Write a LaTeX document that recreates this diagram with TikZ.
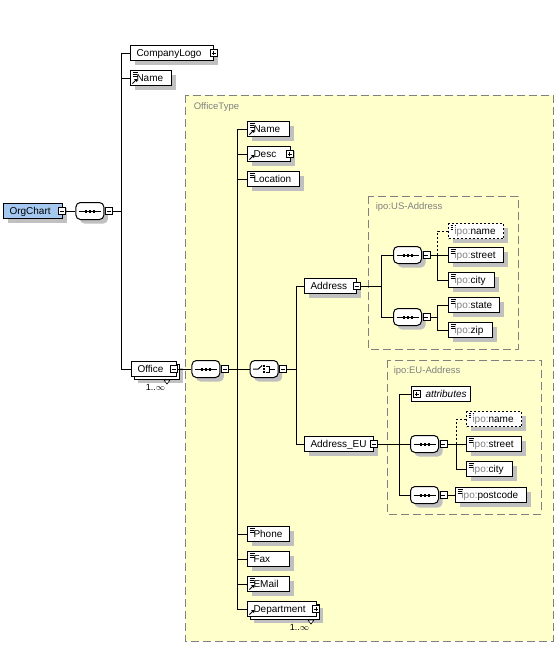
\documentclass[tikz,border=0pt]{standalone}
\usepackage{fontspec}
\setmainfont{Liberation Sans}
\usetikzlibrary{calc,positioning,shadows}

\definecolor{typeFill}{RGB}{255,255,204}
\definecolor{rootFill}{RGB}{164,200,240}
\definecolor{shadeGray}{RGB}{192,192,192}
\definecolor{frameGray}{RGB}{128,128,128}

\newcommand{\ipo}{\textcolor{frameGray}{ipo:}}
% small marks drawn inside the boxes
\newcommand{\docmark}{%
  \draw[black, line width=1pt] ([shift={(2pt,-2pt)}]path picture bounding box.north west) -- ++(5,0);
  \draw[black, line width=1pt] ([shift={(2pt,-4pt)}]path picture bounding box.north west) -- ++(4,0);
  \draw[black, line width=1pt] ([shift={(2pt,-6pt)}]path picture bounding box.north west) -- ++(5,0);}
\newcommand{\refmark}{%
  \draw[black, line width=0.8pt] ([shift={(2pt,2pt)}]path picture bounding box.south west) -- ([shift={(5.5pt,5.5pt)}]path picture bounding box.south west);
  \fill[black] ([shift={(3.5pt,6.5pt)}]path picture bounding box.south west) -- ([shift={(6.5pt,6.5pt)}]path picture bounding box.south west) -- ([shift={(6.5pt,3.5pt)}]path picture bounding box.south west) -- cycle;}
\newcommand{\seqmark}{%
  \draw[black, sharp corners, line width=1pt] ([xshift=3pt]path picture bounding box.west) -- ([xshift=-3pt]path picture bounding box.east);
  \foreach \dd in {-4,0,4}
    \fill[black, sharp corners] ([shift={(\dd pt-1pt,-1.5pt)}]path picture bounding box.center) rectangle ++(2pt,3pt);}
\newcommand{\choicemark}{%
  \draw[black, sharp corners, line width=1pt] ([xshift=3pt]path picture bounding box.west) -- ([xshift=-6pt]path picture bounding box.center) -- ([shift={(-2pt,3.5pt)}]path picture bounding box.center);
  \foreach \dd in {-3,0,3}
    \fill[black, sharp corners] ([shift={(-0.75pt,\dd pt-0.75pt)}]path picture bounding box.center) rectangle ++(1.5pt,1.5pt);
  \draw[black, sharp corners, line width=1pt] ([shift={(2pt,3pt)}]path picture bounding box.center) -| ([shift={(5pt,-3pt)}]path picture bounding box.center) -- ([shift={(2pt,-3pt)}]path picture bounding box.center);
  \draw[black, sharp corners, line width=1pt] ([xshift=5pt]path picture bounding box.center) -- ([xshift=-3pt]path picture bounding box.east);}

\begin{document}
\begin{tikzpicture}[x=1pt, y=-1pt, line width=1pt,
  every node/.style={font=\fontsize{10}{12}\selectfont},
  elem/.style={draw, fill=white, anchor=north west, inner xsep=6pt, inner ysep=0pt,
    minimum height=15pt, text height=8.5pt, text depth=2.5pt, align=left},
  shad/.style={drop shadow={shadow xshift=4pt, shadow yshift=-4pt, fill=shadeGray, draw=none, opacity=1}},
  el/.style={elem, shad},
  opt/.style={el, dash pattern=on 2pt off 2pt},
  multi/.style={elem, drop shadow={shadow xshift=6pt, shadow yshift=-6pt, fill=shadeGray, draw=none, opacity=1},
    copy shadow={shadow xshift=3pt, shadow yshift=-3pt}},
  bw/.code={\pgfmathsetlengthmacro\boxtw{#1-12}\edef\tmpset{\noexpand\tikzset{text width=\boxtw}}\tmpset},
  doc/.style={path picture={\docmark}},
  ref/.style={path picture={\refmark}},
  docref/.style={path picture={\docmark\refmark}},
  tog/.style={draw, fill=white, minimum size=7pt, inner sep=0pt, line width=0.8pt},
  minus/.style={tog, path picture={\draw[black, line width=0.8pt] ([xshift=1.5pt]path picture bounding box.west) -- ([xshift=-1.5pt]path picture bounding box.east);}},
  plus/.style={tog, path picture={\draw[black, line width=0.8pt] ([xshift=1.5pt]path picture bounding box.west) -- ([xshift=-1.5pt]path picture bounding box.east) ([yshift=-1.5pt]path picture bounding box.north) -- ([yshift=1.5pt]path picture bounding box.south);}},
  comp/.style={rectangle, rounded corners=4.5pt, draw, fill=white,
    minimum width=28pt, minimum height=17pt, inner sep=0pt, anchor=north west, shad},
  seq/.style={comp, path picture={\seqmark}},
  choice/.style={comp, path picture={\choicemark}},
  typebox/.style={draw=frameGray, fill=typeFill, dash pattern=on 8pt off 4pt},
  typelabel/.style={anchor=base west, text=frameGray, font=\fontsize{9.5}{11}\selectfont},
  occ/.style={anchor=base east, font=\fontsize{9}{11}\selectfont},
  opt link/.style={dash pattern=on 2pt off 2pt}]
\useasboundingbox (0,0) rectangle (560,654);
\fill[white] (0,0) rectangle (560,654);

% --- Type boxes (background) ---
\draw[typebox] (185,95) rectangle (553,641);
\node[typelabel] (otLabel) at (190,109) {OfficeType};
\draw[typebox] (368,196) rectangle (518,349);
\node[typelabel] (usLabel) at (372,209) {ipo:US-Address};
\draw[typebox] (387,360) rectangle (541,514);
\node[typelabel] (euLabel) at (390,373) {ipo:EU-Address};

% --- OrgChart ---
\node[el, fill=rootFill, bw=59] (org) at (3,203) {OrgChart};
\node[minus] (orgT) at ([xshift=-1.5pt]org.east) {};
\node[seq, right=10pt of orgT] (seqR) {};
\node[minus, right=0.5pt of seqR] (seqRT) {};
\coordinate[right=9pt of seqRT] (jR);
\node[el, bw=83] (logo) at (130,45) {CompanyLogo};
\node[plus] (logoT) at ([xshift=-0.5pt]logo.east) {};
\node[el, docref, bw=41] (name) at (130,70) {Name};
\node[multi, bw=45] (office) at (131,361) {Office};
\node[minus] (officeT) at ([xshift=-3.5pt]office.east) {};
\draw[line width=0.6pt, fill=white] ([shift={(-13pt,-3pt)}]office.south east) -- ++(6,0) -- ++(-3,4) -- cycle;
\node[occ] (officeOcc) at ([shift={(-8pt,-13.5pt)}]office.south east) {1..$\infty$};

% --- OfficeType content ---
\node[seq, right=14pt of officeT] (seqO) {};
\node[minus, right=0.5pt of seqO] (seqOT) {};
\coordinate[right=9pt of seqOT] (jO);
\node[el, docref, bw=42] (otName) at (247,121) {Name};
\node[el, ref, bw=43] (desc) at (247,146) {Desc};
\node[plus] (descT) at ([xshift=-1.5pt]desc.east) {};
\node[el, doc, bw=52] (loc) at (247,171) {Location};
\node[choice, right=12pt of jO] (choice) {};
\node[minus, right=0.5pt of choice] (choiceT) {};
\coordinate[right=9.5pt of choiceT] (jC);
\node[el, doc, bw=42] (phone) at (247,526) {Phone};
\node[el, doc, bw=42] (fax) at (247,551) {Fax};
\node[el, docref, bw=42] (email) at (247,576) {EMail};
\node[multi, ref, bw=69] (dept) at (247,601) {Department};
\node[plus] (deptT) at ([xshift=-1pt]dept.east) {};
\draw[line width=0.6pt, fill=white] ([shift={(-9pt,-3pt)}]dept.south east) -- ++(6,0) -- ++(-3,4) -- cycle;
\node[occ] (deptOcc) at ([shift={(-4pt,-13pt)}]dept.south east) {1..$\infty$};

% --- ipo:US-Address ---
\node[el, bw=52] (addr) at (304,278) {Address};
\node[minus] (addrT) at ([xshift=-0.5pt]addr.east) {};
\coordinate[right=21pt of addrT] (jUS);
\node[seq] (seqA) at (393,246) {};
\node[minus, right=0.5pt of seqA] (seqAT) {};
\coordinate[right=7.5pt of seqAT] (jA);
\node[seq] (seqB) at (393,308) {};
\node[minus, right=0.5pt of seqB] (seqBT) {};
\coordinate[right=7.5pt of seqBT] (jB);
\node[opt, doc, bw=55] (usName) at (448,223) {\ipo name};
\foreach \nm/\txt/\y/\w in {usStreet/street/247/55, usCity/city/272/46, usState/state/297/51, usZip/zip/322/44}
  \node[el, doc, bw=\w] (\nm) at (448,\y) {\ipo\txt};

% --- ipo:EU-Address ---
\node[el, bw=69] (addrEU) at (304,436) {Address\_EU};
\node[minus] (addrEUT) at ([xshift=-0.5pt]addrEU.east) {};
\coordinate[right=22pt of addrEUT] (jEU);
\node[elem, bw=59] (attr) at (411,386) {\hspace*{8pt}\mbox{\textit{attributes}}};
\node[plus] (attrT) at ([xshift=5.5pt]attr.west) {};
\node[seq] (seqC) at (410,435) {};
\node[minus, right=0.5pt of seqC] (seqCT) {};
\coordinate[right=9.5pt of seqCT] (jCc);
\node[seq] (seqD) at (410,486) {};
\node[minus, right=0.5pt of seqD] (seqDT) {};
\node[opt, doc, bw=55] (euName) at (466,411) {\ipo name};
\node[el, doc, bw=55] (euStreet) at (466,436) {\ipo street};
\node[el, doc, bw=46] (euCity) at (466,461) {\ipo city};
\node[el, doc, bw=71] (euPost) at (455,487) {\ipo postcode};

% --- Connectors ---
\draw (orgT.east) -- (seqR.west);
\draw (seqRT.east) -- (jR);
\foreach \kid in {logo,name,office} \draw (jR) |- (\kid.west);
\draw (officeT.east) -- (seqO.west);
\draw (seqOT.east) -- (jO);
\foreach \kid in {otName,desc,loc,choice,phone,fax,email,dept} \draw (jO) |- (\kid.west);
\draw (choiceT.east) -- (jC);
\foreach \kid in {addr,addrEU} \draw (jC) |- (\kid.west);
\draw (addrT.east) -- (jUS);
\foreach \kid in {seqA,seqB} \draw (jUS) |- (\kid.west);
\draw (seqAT.east) -- (jA);
\draw[opt link] (jA) |- (usName.west);
\foreach \kid in {usStreet,usCity} \draw (jA) |- (\kid.west);
\draw (seqBT.east) -- (jB);
\foreach \kid in {usState,usZip} \draw (jB) |- (\kid.west);
\draw (addrEUT.east) -- (jEU);
\foreach \kid in {attr,seqC,seqD} \draw (jEU) |- (\kid.west);
\draw (seqCT.east) -- (jCc);
\draw[opt link] (jCc) |- (euName.west);
\foreach \kid in {euStreet,euCity} \draw (jCc) |- (\kid.west);
\draw (seqDT.east) -- (euPost.west);
\end{tikzpicture}
\end{document}
